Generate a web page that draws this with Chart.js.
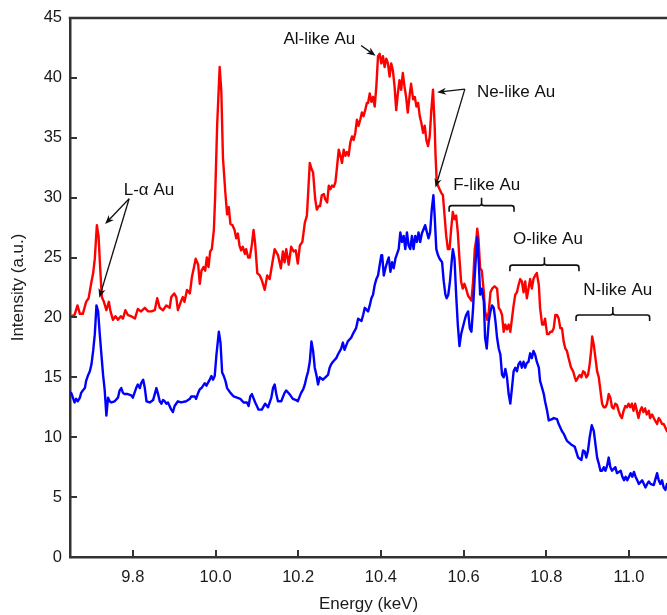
<!DOCTYPE html>
<html>
<head>
<meta charset="utf-8">
<title>Au L-shell spectrum</title>
<script src="https://cdn.jsdelivr.net/npm/chart.js@4.4.0/dist/chart.umd.min.js"></script>
<style>
    html, body { margin: 0; padding: 0; background: #fff; }
    #wrap { width: 667px; height: 615px; }
</style>
</head>
<body>
<div id="wrap"><canvas id="spectrum" width="667" height="615"></canvas></div>
<script>
// upper trace (red), energy in keV / intensity in a.u.
const redEnergy = [
    9.651, 9.659, 9.666, 9.672, 9.679, 9.687, 9.693, 9.700, 9.704, 9.708,
    9.713, 9.717, 9.721, 9.725, 9.730, 9.736, 9.742, 9.746, 9.752, 9.758,
    9.764, 9.771, 9.776, 9.782, 9.788, 9.796, 9.805, 9.812, 9.820, 9.829,
    9.837, 9.845, 9.853, 9.859, 9.865, 9.873, 9.881, 9.889, 9.893, 9.900,
    9.905, 9.909, 9.916, 9.921, 9.925, 9.931, 9.938, 9.943, 9.948, 9.952,
    9.958, 9.962, 9.966, 9.971, 9.975, 9.979, 9.983, 9.987, 9.991, 9.996,
    9.999, 10.004, 10.010, 10.014, 10.018, 10.024, 10.028, 10.032, 10.036, 10.041,
    10.046, 10.050, 10.054, 10.058, 10.062, 10.066, 10.071, 10.074, 10.079, 10.083,
    10.088, 10.092, 10.096, 10.101, 10.107, 10.112, 10.119, 10.125, 10.131,
    10.143, 10.151, 10.158, 10.163, 10.167, 10.171, 10.177, 10.183, 10.189, 10.194,
    10.199, 10.204, 10.210, 10.216, 10.221, 10.225, 10.228, 10.232, 10.236, 10.241,
    10.245, 10.250, 10.253, 10.257, 10.262, 10.265, 10.270, 10.274, 10.278, 10.282,
    10.286, 10.290, 10.294, 10.298, 10.302, 10.306, 10.310, 10.314, 10.318, 10.322,
    10.326, 10.330, 10.334, 10.338, 10.342, 10.346, 10.350, 10.354, 10.358, 10.362,
    10.366,
    10.369, 10.373, 10.377, 10.381, 10.385, 10.389, 10.393, 10.397, 10.401, 10.405,
    10.409, 10.413, 10.417, 10.421, 10.425, 10.429, 10.433, 10.437, 10.441, 10.445,
    10.449, 10.453, 10.457, 10.461, 10.465, 10.470, 10.473, 10.478, 10.482, 10.486,
    10.490, 10.494, 10.498, 10.502, 10.506, 10.510, 10.514, 10.518, 10.522, 10.526,
    10.530, 10.532, 10.535, 10.538, 10.542, 10.546, 10.550, 10.554, 10.558, 10.562,
    10.566, 10.570, 10.574, 10.578, 10.582, 10.586, 10.590, 10.594, 10.598, 10.602,
    10.606, 10.611,
    10.619, 10.623, 10.627, 10.631, 10.633, 10.636, 10.640, 10.644, 10.649, 10.652,
    10.657, 10.661, 10.665, 10.669, 10.675, 10.681, 10.685, 10.689, 10.693, 10.697,
    10.701, 10.705, 10.709, 10.713, 10.717, 10.721, 10.725, 10.729, 10.733, 10.737,
    10.741, 10.745, 10.749, 10.753, 10.757, 10.761, 10.765, 10.769, 10.773, 10.777,
    10.782, 10.785, 10.790, 10.794, 10.797, 10.802, 10.806, 10.810, 10.814, 10.818,
    10.822, 10.826, 10.830, 10.834, 10.838, 10.842, 10.846, 10.850, 10.854,
    10.860, 10.865, 10.869, 10.872, 10.877, 10.881, 10.885, 10.889, 10.893, 10.897,
    10.901, 10.905, 10.909, 10.911, 10.915, 10.919, 10.923, 10.927, 10.931, 10.935,
    10.939, 10.943, 10.947, 10.951, 10.955, 10.959, 10.963, 10.967, 10.971, 10.975,
    10.979, 10.983, 10.987, 10.991, 10.995, 10.999, 11.003, 11.007, 11.011, 11.015,
    11.019, 11.023, 11.027, 11.031, 11.035, 11.039, 11.043, 11.048, 11.051, 11.056,
    11.060, 11.063, 11.068, 11.072, 11.076, 11.080, 11.084, 11.088, 11.092
];
const redIntensity = [
    20.1, 20.2, 21.0, 20.3, 20.3, 21.3, 21.6, 23.0, 23.7, 24.9,
    27.7, 26.8, 24.1, 21.7, 21.3, 20.6, 21.3, 20.5, 19.8, 20.1,
    19.8, 20.1, 19.9, 20.6, 20.2, 20.1, 19.9, 20.7, 20.5, 20.8,
    20.5, 20.5, 20.6, 21.6, 20.8, 20.6, 21.0, 20.8, 21.7, 22.0,
    21.7, 20.6, 21.3, 21.7, 21.3, 22.3, 22.0, 23.4, 24.2, 24.9,
    24.4, 22.8, 23.9, 24.2, 23.9, 25.0, 24.2, 25.5, 25.7, 27.3,
    30.0, 36.1, 40.9, 38.9, 33.3, 30.3, 28.6, 29.2, 27.8, 27.7,
    27.3, 26.6, 27.0, 26.0, 25.6, 25.9, 25.3, 25.7, 25.0, 25.0,
    26.1, 27.3, 26.1, 23.7, 23.5, 23.1, 22.3, 23.5, 23.2,
    25.7, 25.2, 24.1, 25.5, 24.6, 25.7, 24.4, 25.9, 25.5, 25.6,
    24.5, 26.0, 26.3, 27.9, 28.5, 31.0, 32.9, 32.4, 32.1, 29.9,
    29.0, 29.3, 29.3, 30.2, 30.3, 29.9, 29.6, 31.0, 30.7, 31.0,
    30.9, 31.3, 32.6, 34.0, 33.5, 32.9, 34.0, 33.5, 33.8, 33.5,
    34.6, 35.1, 34.8, 35.4, 36.5, 36.0, 36.5, 37.1, 36.8, 37.3,
    37.9,
    37.9, 38.7, 38.0, 38.4, 37.6, 39.3, 41.8, 42.0, 41.2, 41.8,
    40.9, 41.6, 41.2, 40.1, 41.2, 40.6, 39.3, 37.3, 38.7, 39.8,
    39.0, 40.4, 39.3, 38.4, 37.1, 38.7, 39.5, 38.2, 38.4, 37.6,
    37.9, 36.8, 36.2, 35.4, 36.0, 34.8, 34.3, 35.1, 37.3, 39.0,
    36.0, 33.7, 31.3, 31.0, 30.7, 30.4, 30.2, 28.5, 26.8, 25.7,
    25.7, 27.4, 28.8, 28.2, 28.5, 27.1, 24.9, 23.0, 22.4, 22.8,
    22.4, 21.8,
    21.4, 23.0, 25.7, 26.6, 27.4, 26.6, 24.1, 23.9, 22.1, 20.5,
    19.8, 20.5, 22.1, 22.4, 22.6, 22.4, 20.8, 20.6, 20.2, 18.8,
    19.4, 19.0, 19.4, 18.8, 19.9, 21.0, 21.9, 22.1, 22.7, 23.2,
    23.0, 22.1, 23.0, 21.6, 22.4, 23.2, 22.4, 23.2, 23.5, 23.7,
    22.7, 20.8, 19.4, 19.4, 19.9, 18.6, 18.6, 18.8, 18.8, 19.1,
    20.2, 20.2, 19.9, 19.1, 19.1, 18.0, 17.4, 17.2, 16.6,
    15.8, 15.5, 15.0, 14.7, 15.0, 15.2, 15.0, 15.5, 15.4, 15.0,
    15.2, 16.1, 17.4, 18.4, 17.7, 16.6, 15.5, 15.0, 13.9, 12.8,
    12.5, 12.5, 12.8, 13.6, 13.3, 12.5, 12.4, 12.8, 12.7, 12.2,
    11.8, 11.6, 12.2, 12.6, 12.5, 12.8, 12.5, 12.8, 12.2, 12.8,
    12.2, 11.6, 12.2, 12.5, 12.1, 12.4, 11.9, 12.2, 11.6, 11.9,
    11.6, 11.4, 11.1, 11.6, 11.4, 11.1, 11.1, 10.8, 10.5
];

// lower trace (blue)
const blueEnergy = [
    9.651, 9.655, 9.659, 9.663, 9.667, 9.672, 9.675, 9.679, 9.684, 9.687,
    9.692, 9.696, 9.700, 9.704, 9.708, 9.712, 9.716, 9.720, 9.724, 9.728,
    9.732, 9.736, 9.740, 9.744, 9.748, 9.756, 9.764, 9.768, 9.772, 9.776,
    9.780, 9.788, 9.796, 9.800, 9.808, 9.812, 9.817, 9.820, 9.825, 9.829,
    9.833, 9.841, 9.849, 9.857, 9.861, 9.865, 9.869, 9.873, 9.877, 9.881,
    9.885, 9.893, 9.897, 9.901, 9.909, 9.917, 9.929, 9.938, 9.941, 9.950,
    9.953, 9.958, 9.962, 9.966, 9.970, 9.974, 9.978, 9.986, 9.990, 9.994,
    9.998, 10.002, 10.008, 10.012, 10.016, 10.020, 10.024, 10.028, 10.036, 10.044,
    10.052, 10.060, 10.068, 10.076, 10.080, 10.084, 10.088, 10.096, 10.100, 10.104,
    10.112, 10.120, 10.127, 10.135, 10.139, 10.143, 10.147, 10.151, 10.159, 10.167,
    10.171, 10.179, 10.187, 10.195, 10.199, 10.207, 10.212, 10.216, 10.220, 10.224,
    10.228, 10.232, 10.236, 10.240, 10.244, 10.248, 10.252, 10.260, 10.272, 10.276,
    10.280, 10.284, 10.292, 10.296, 10.304, 10.308, 10.312, 10.320, 10.328, 10.332,
    10.340, 10.345, 10.353, 10.357, 10.361, 10.369, 10.373, 10.377, 10.381, 10.385,
    10.389, 10.393, 10.401, 10.403, 10.407, 10.411, 10.415, 10.419, 10.423, 10.427,
    10.431, 10.435, 10.443, 10.447, 10.451, 10.455, 10.459, 10.463, 10.467, 10.471,
    10.475, 10.479, 10.483, 10.487, 10.491, 10.495, 10.499, 10.507, 10.515, 10.519,
    10.523, 10.527, 10.530, 10.534, 10.538, 10.542, 10.548, 10.552, 10.556, 10.559,
    10.563, 10.567, 10.571, 10.574, 10.578, 10.582, 10.586, 10.590, 10.594, 10.602,
    10.606, 10.611, 10.615, 10.619, 10.623, 10.627, 10.631, 10.633, 10.637, 10.640,
    10.644, 10.649, 10.652, 10.656, 10.661, 10.665, 10.669, 10.673, 10.677, 10.681,
    10.685, 10.689, 10.693, 10.697, 10.701, 10.705, 10.709, 10.713, 10.717, 10.721,
    10.725, 10.729, 10.733, 10.737, 10.741, 10.745, 10.749, 10.753, 10.757, 10.761,
    10.765, 10.769, 10.773, 10.777, 10.782, 10.785, 10.790, 10.794, 10.797, 10.802,
    10.806, 10.814, 10.818, 10.826, 10.830, 10.838, 10.842, 10.846, 10.850, 10.860,
    10.869, 10.877, 10.885, 10.889, 10.893, 10.897, 10.901, 10.905, 10.910, 10.915,
    10.919, 10.923, 10.927, 10.931, 10.935, 10.939, 10.943, 10.947, 10.951, 10.955,
    10.959, 10.967, 10.971, 10.980, 10.984, 10.988, 10.992, 10.996, 11.000, 11.004,
    11.008, 11.012, 11.016, 11.020, 11.024, 11.032, 11.040, 11.044, 11.048, 11.052,
    11.060, 11.068, 11.072, 11.076, 11.080, 11.084, 11.088, 11.092
];
const blueIntensity = [
    13.7, 13.3, 12.9, 13.2, 13.0, 13.3, 13.7, 13.9, 14.1, 14.7,
    15.2, 15.5, 16.1, 17.2, 18.6, 21.0, 20.5, 18.6, 16.9, 15.2,
    13.9, 11.8, 13.3, 13.0, 12.9, 13.0, 13.3, 13.9, 14.1, 13.7,
    13.6, 13.6, 13.5, 13.3, 14.1, 14.4, 14.1, 14.5, 14.8, 14.1,
    13.0, 12.9, 13.1, 14.1, 13.6, 13.0, 12.8, 13.1, 13.0, 12.8,
    12.9, 12.3, 12.1, 12.6, 13.0, 12.9, 13.0, 13.2, 13.4, 13.4,
    13.2, 13.7, 14.0, 14.1, 14.3, 14.5, 14.3, 14.8, 15.1, 14.8,
    15.1, 16.8, 18.8, 17.9, 15.4, 15.1, 14.7, 14.1, 13.7, 13.4,
    13.3, 13.2, 12.9, 12.9, 12.6, 13.4, 13.6, 12.9, 12.6, 12.3,
    12.3, 12.8, 12.5, 13.3, 14.1, 14.4, 13.6, 13.0, 13.0, 13.7,
    13.9, 13.6, 13.2, 13.1, 13.0, 13.7, 14.0, 14.4, 15.0, 15.5,
    16.3, 18.0, 17.2, 15.8, 15.2, 14.4, 15.0, 14.8, 15.2, 15.8,
    16.1, 16.3, 16.6, 16.9, 17.4, 17.9, 17.3, 18.0, 18.3, 18.6,
    19.1, 19.9, 19.7, 20.2, 20.8, 20.5, 21.0, 21.6, 21.9, 22.7,
    23.2, 23.5, 25.2, 25.2, 23.5, 24.1, 24.6, 25.0, 23.8, 24.6,
    24.1, 24.9, 25.7, 27.1, 26.3, 26.8, 25.7, 27.1, 26.0, 25.7,
    26.8, 25.7, 26.8, 26.3, 27.1, 26.3, 27.0, 27.7, 26.6, 27.1,
    29.0, 30.2, 28.5, 25.7, 25.2, 24.9, 24.6, 23.0, 21.9, 21.6,
    21.9, 23.0, 24.6, 25.7, 24.9, 21.9, 19.4, 17.6, 18.6, 19.7,
    20.2, 20.5, 19.1, 18.8, 20.8, 23.5, 25.7, 26.7, 24.4, 21.9,
    22.4, 21.3, 18.3, 17.4, 19.7, 20.5, 21.0, 20.8, 19.7, 18.3,
    17.4, 16.9, 15.2, 15.0, 15.7, 15.0, 13.6, 12.8, 14.1, 15.5,
    15.8, 15.5, 16.1, 16.3, 15.8, 16.3, 15.8, 16.2, 16.3, 17.0,
    16.6, 17.2, 16.9, 16.3, 15.8, 14.7, 14.1, 13.6, 13.0, 12.2,
    11.4, 11.5, 11.6, 11.5, 11.1, 10.5, 10.3, 10.0, 9.7, 9.4,
    9.2, 8.3, 8.1, 8.9, 8.8, 8.3, 8.9, 10.0, 11.0, 10.5,
    9.4, 8.3, 7.8, 7.2, 7.2, 7.5, 7.2, 7.6, 8.3, 7.5,
    7.2, 7.5, 7.0, 7.2, 6.7, 6.4, 6.7, 6.4, 6.7, 7.0,
    6.7, 7.1, 6.7, 6.4, 6.1, 6.4, 5.8, 6.1, 6.3, 6.1,
    6.0, 7.0, 6.4, 6.1, 6.4, 5.8, 5.6, 6.1
];

// axes
const energyMin = 9.648;
const energyMax = 11.092;
const xTickValues = [9.8, 10.0, 10.2, 10.4, 10.6, 10.8, 11.0];
const yTickValues = [0, 5, 10, 15, 20, 25, 30, 35, 40, 45];

// annotations (in data units)
const noteText = ['L-\u03B1 Au', 'Al-like Au', 'Ne-like Au', 'F-like Au', 'O-like Au', 'N-like Au'];
const noteEnergy = [9.839, 10.251, 10.727, 10.656, 10.804, 10.973];
const noteIntensity = [30.6, 43.2, 38.8, 31.0, 26.5, 22.3];
const arrowFrom = [[9.791, 29.9], [9.791, 29.9], [10.352, 42.7], [10.603, 39.05], [10.603, 39.05]];
const arrowTo = [[9.733, 27.8], [9.719, 21.65], [10.387, 41.84], [10.536, 38.8], [10.532, 30.85]];
const bracketFrom = [10.565, 10.712, 10.872];
const bracketTo = [10.722, 10.879, 11.050];
const bracketLevel = [29.33, 24.36, 20.2];

const FONT = '"Liberation Sans", Arial, Helvetica, sans-serif';
const AXIS_COLOR = '#333';

if (redEnergy.length !== redIntensity.length || blueEnergy.length !== blueIntensity.length) {
    console.warn('length mismatch', redEnergy.length, redIntensity.length, blueEnergy.length, blueIntensity.length);
}

function drawArrow(ctx, x1, y1, x2, y2) {
    const ang = Math.atan2(y2 - y1, x2 - x1);
    const cos = Math.cos(ang), sin = Math.sin(ang);
    const head = 9, wing = 3.6;
    ctx.beginPath();
    ctx.moveTo(x1, y1);
    ctx.lineTo(x2 - head * 0.6 * cos, y2 - head * 0.6 * sin);
    ctx.stroke();
    ctx.beginPath();
    ctx.moveTo(x2, y2);
    ctx.lineTo(x2 - head * cos + wing * sin, y2 - head * sin - wing * cos);
    ctx.lineTo(x2 - head * 0.7 * cos, y2 - head * 0.7 * sin);
    ctx.lineTo(x2 - head * cos - wing * sin, y2 - head * sin + wing * cos);
    ctx.closePath();
    ctx.fill();
}

function drawBracket(ctx, xa, xb, y) {
    const xc = (xa + xb) / 2;
    const r = 2.5;
    ctx.beginPath();
    ctx.moveTo(xa, y + 6);
    ctx.lineTo(xa, y + r);
    ctx.quadraticCurveTo(xa, y, xa + r, y);
    ctx.lineTo(xc - r, y);
    ctx.quadraticCurveTo(xc, y, xc, y - r);
    ctx.lineTo(xc, y - 8);
    ctx.moveTo(xc, y - r);
    ctx.quadraticCurveTo(xc, y, xc + r, y);
    ctx.lineTo(xb - r, y);
    ctx.quadraticCurveTo(xb, y, xb, y + r);
    ctx.lineTo(xb, y + 6);
    ctx.stroke();
}

// inward ticks, top frame line and the text notes
const framePlugin = {
    id: 'frameAndNotes',
    afterDatasetsDraw(chart) {
        const {ctx, chartArea: area, scales: {x, y}} = chart;
        ctx.save();
        ctx.strokeStyle = AXIS_COLOR;
        ctx.lineWidth = 2.5;
        ctx.beginPath();
        ctx.moveTo(area.left - 1.25, area.top);
        ctx.lineTo(area.right, area.top);
        ctx.stroke();

        ctx.lineWidth = 2;
        xTickValues.forEach(v => {
            const px = Math.round(x.getPixelForValue(v));
            ctx.beginPath();
            ctx.moveTo(px, area.bottom);
            ctx.lineTo(px, area.bottom - 7);
            ctx.stroke();
        });
        yTickValues.forEach(v => {
            const py = Math.round(y.getPixelForValue(v));
            ctx.beginPath();
            ctx.moveTo(area.left, py);
            ctx.lineTo(area.left + 7, py);
            ctx.stroke();
        });

        ctx.fillStyle = '#111';
        ctx.strokeStyle = '#111';
        ctx.lineWidth = 1.3;
        arrowFrom.forEach((from, i) => {
            const to = arrowTo[i];
            drawArrow(ctx, x.getPixelForValue(from[0]), y.getPixelForValue(from[1]),
                x.getPixelForValue(to[0]), y.getPixelForValue(to[1]));
        });

        ctx.lineWidth = 1.6;
        bracketFrom.forEach((e, i) => {
            drawBracket(ctx, x.getPixelForValue(e), x.getPixelForValue(bracketTo[i]),
                y.getPixelForValue(bracketLevel[i]));
        });

        ctx.font = '17px ' + FONT;
        ctx.textAlign = 'center';
        ctx.textBaseline = 'middle';
        noteText.forEach((t, i) => {
            ctx.fillText(t, x.getPixelForValue(noteEnergy[i]), y.getPixelForValue(noteIntensity[i]));
        });
        ctx.restore();
    }
};

const toPoints = (xs, ys) => xs.map((e, i) => ({x: e, y: ys[i]}));

new Chart(document.getElementById('spectrum').getContext('2d'), {
    type: 'line',
    data: {
        datasets: [{
            label: 'lower',
            data: toPoints(blueEnergy, blueIntensity),
            borderColor: '#0000ff',
            borderWidth: 2.4,
            borderJoinStyle: 'round',
            borderCapStyle: 'round',
            pointRadius: 0,
            tension: 0,
            fill: false
        }, {
            label: 'upper',
            data: toPoints(redEnergy, redIntensity),
            borderColor: '#ff0000',
            borderWidth: 2.4,
            borderJoinStyle: 'round',
            borderCapStyle: 'round',
            pointRadius: 0,
            tension: 0,
            fill: false
        }]
    },
    options: {
        responsive: false,
        devicePixelRatio: 1,
        animation: false,
        layout: {
            padding: {top: 14, right: 0, bottom: 0, left: 0}
        },
        plugins: {
            legend: {display: false},
            tooltip: {enabled: false}
        },
        scales: {
            x: {
                type: 'linear',
                min: energyMin,
                max: energyMax,
                afterBuildTicks: scale => {
                    scale.ticks = xTickValues.map(v => ({value: v}));
                },
                afterFit: scale => {
                    scale.height = 58;
                },
                grid: {display: false, drawTicks: false},
                border: {display: true, color: AXIS_COLOR, width: 2.5},
                ticks: {
                    color: '#1a1a1a',
                    font: {family: FONT, size: 16.5},
                    padding: 11,
                    maxRotation: 0,
                    autoSkip: false,
                    callback: v => v.toFixed(1)
                },
                title: {
                    display: true,
                    text: 'Energy (keV)',
                    color: '#1a1a1a',
                    font: {family: FONT, size: 17},
                    padding: {top: 0, bottom: 0}
                }
            },
            y: {
                min: 0,
                max: 45,
                afterBuildTicks: scale => {
                    scale.ticks = yTickValues.map(v => ({value: v}));
                },
                afterFit: scale => {
                    scale.width = 70;
                },
                grid: {display: false, drawTicks: false},
                border: {display: true, color: AXIS_COLOR, width: 2.5},
                ticks: {
                    color: '#1a1a1a',
                    font: {family: FONT, size: 16.5},
                    padding: 8
                },
                title: {
                    display: true,
                    text: 'Intensity (a.u.)',
                    color: '#1a1a1a',
                    font: {family: FONT, size: 17},
                    padding: {top: 8, bottom: 0}
                }
            }
        }
    },
    plugins: [framePlugin]
});
</script>
</body>
</html>
